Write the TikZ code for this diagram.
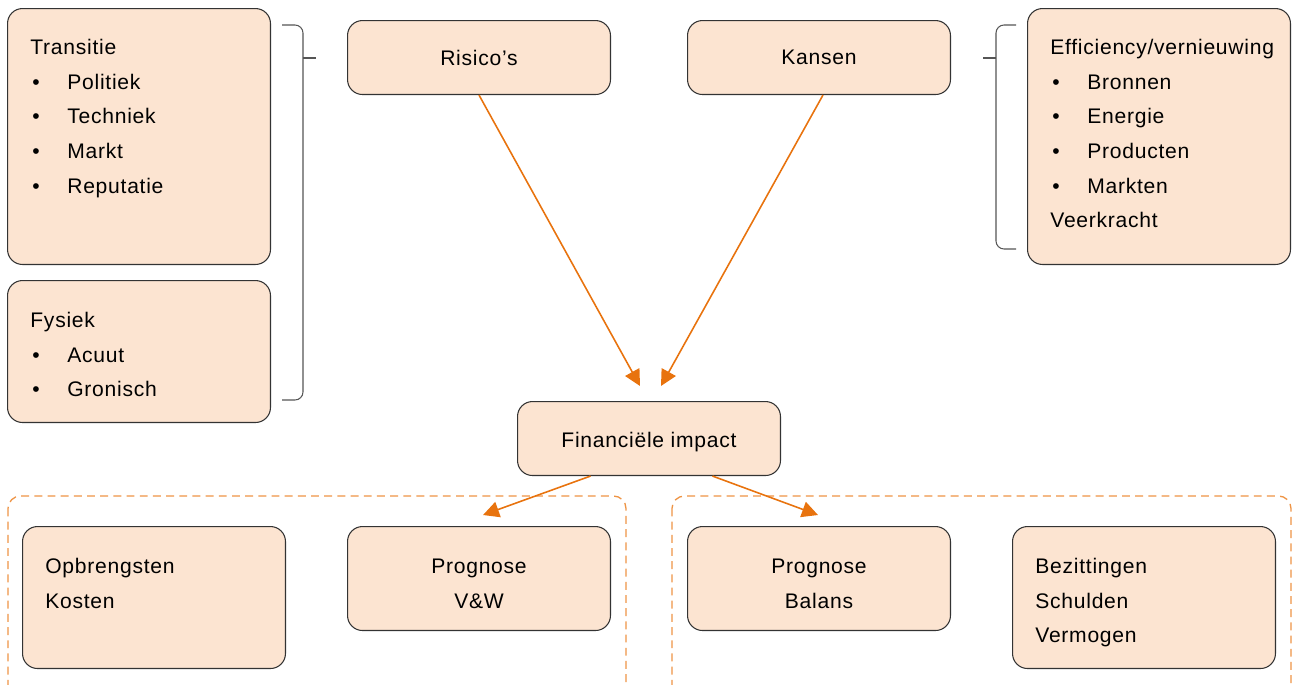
\documentclass[tikz,border=0pt]{standalone}
\usepackage{fontspec}
\setmainfont[LetterSpace=3.5]{Liberation Sans}
\usetikzlibrary{arrows.meta, calc, positioning}

\definecolor{boxfill}{HTML}{FCE4D1}
\definecolor{arroworange}{HTML}{E8730E}
\definecolor{dashorange}{HTML}{EE9445}
\definecolor{bracegray}{HTML}{555555}
\newcommand{\opsom}[1]{\hspace*{0.04cm}\makebox[0.7cm][l]{\textbullet}#1}

\begin{document}
\begin{tikzpicture}[x=0.02cm, y=-0.02cm, >={Triangle[length=0.32cm, width=0.32cm]},
  font=\fontsize{12}{19.7}\selectfont,
  box/.style={draw=black!80, line width=0.6pt, fill=boxfill, rounded corners=0.3cm, anchor=north west, inner sep=0pt, align=center},
  txt/.style={anchor=north west, inner sep=0pt, align=left},
  flow/.style={->, arroworange, line width=0.9pt},
  group/.style={dashorange, line width=0.75pt, dash pattern=on 4.5pt off 3pt, rounded corners=0.25cm},
  brace/.style={bracegray, line width=0.6pt, rounded corners=0.16cm}]
  \clip (0,0) rectangle (1292,684);

  % dashed groups
  \draw[group] (8,496) rectangle (626,720);
  \draw[group] (672,496) rectangle (1291,720);

  % boxes
  \node[box, minimum width=5.26cm, minimum height=5.12cm] (trans) at (7,8) {};
  \node[box, minimum width=5.26cm, minimum height=2.84cm] (fys) at (7,280) {};
  \node[box, minimum width=5.26cm, minimum height=1.48cm] (risk) at (347,20) {Risico’s};
  \node[box, minimum width=5.26cm, minimum height=1.48cm] (kans) at (687,20) {Kansen};
  \node[box, minimum width=5.26cm, minimum height=5.12cm] (eff) at (1027,8) {};
  \node[box, minimum width=5.26cm, minimum height=1.48cm] (fin) at (517,401) {\rule{0pt}{13pt}Financiële impact};
  \node[box, minimum width=5.26cm, minimum height=2.84cm] (opb) at (22,526) {};
  \node[box, minimum width=5.26cm, minimum height=2.08cm] (pvw) at (347,526) {\rule{0pt}{14pt}Prognose\\V\&W};
  \node[box, minimum width=5.26cm, minimum height=2.08cm] (pbal) at (687,526) {\rule{0pt}{14pt}Prognose\\Balans};
  \node[box, minimum width=5.26cm, minimum height=2.84cm] (bez) at (1012,526) {};

  % box texts
  \node[txt] (trans-txt) at (30,39) {Transitie\\\opsom{Politiek}\\\opsom{Techniek}\\\opsom{Markt}\\\opsom{Reputatie}};
  \node[txt] (fys-txt) at (30,312) {Fysiek\\\opsom{Acuut}\\\opsom{Gronisch}};
  \node[txt] (eff-txt) at (1050,39) {Efficiency/vernieuwing\\\opsom{Bronnen}\\\opsom{Energie}\\\opsom{Producten}\\\opsom{Markten}\\Veerkracht};
  \node[txt] (opb-txt) at (45,558) {Opbrengsten\\Kosten};
  \node[txt] (bez-txt) at (1035,558) {Bezittingen\\Schulden\\Vermogen};

  % braces
  \draw[brace] (282,25) -| (303,400) -- (282,400);
  \draw[brace] (303,58) -- (316,58);
  \draw[brace] (1016,25) -| (996,249) -- (1016,249);
  \draw[brace] (983,58) -- (996,58);

  % arrows
  \coordinate (risk-end) at (640,386);
  \coordinate (kans-end) at (661,386);
  \coordinate (pvw-end) at (483,515);
  \coordinate (pbal-end) at (818,515);
  \draw[flow] (risk.south) -- (risk-end);
  \draw[flow] ([xshift=0.08cm]kans.south) -- (kans-end);
  \draw[flow] ([xshift=-1.17cm]fin.south) -- (pvw-end);
  \draw[flow] ([xshift=1.27cm]fin.south) -- (pbal-end);
\end{tikzpicture}
\end{document}
